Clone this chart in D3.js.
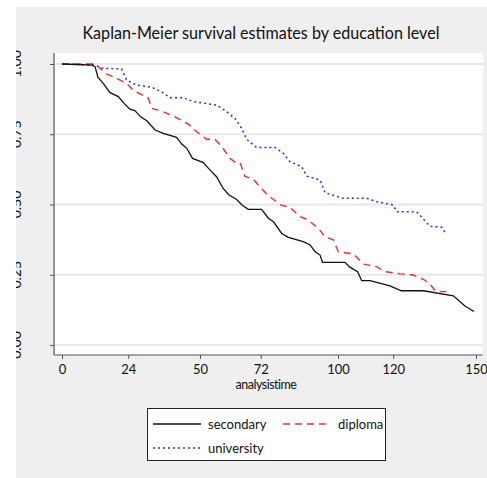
<!DOCTYPE html>
<html>
<head>
<meta charset="utf-8">
<script src="https://cdn.jsdelivr.net/npm/d3@7"></script>
<style>
  body { margin: 0; background: #fff; }
  svg text { font-family: Lato, "Open Sans", sans-serif; fill: #111; }
</style>
</head>
<body>
<div id="chart"></div>
<script>
// analysis time ticks and survival ticks
const xTicks = [0, 24, 50, 72, 100, 120, 150];
const yTicks = [0, 0.25, 0.5, 0.75, 1];
const yTickLabels = ["0.00", "0.25", "0.50", "0.75", "1.00"];

// Kaplan-Meier estimates: [time, survival]
const secondary = [
  [0, 1], [11, 0.996], [12, 0.99], [13, 0.953], [15, 0.93], [17.4, 0.898], [20.4, 0.884],
  [22.5, 0.86], [24.6, 0.839], [26.4, 0.834], [28.5, 0.812], [30.7, 0.798], [33.7, 0.765],
  [36.7, 0.753], [41.5, 0.739], [43.4, 0.715], [45.2, 0.70], [47.3, 0.664], [51.2, 0.649],
  [53.4, 0.625], [56, 0.599], [58.4, 0.557], [60.5, 0.534], [63.3, 0.518], [65.1, 0.499],
  [67.5, 0.483], [72.3, 0.483], [74.8, 0.451], [76.6, 0.439], [79.6, 0.397], [82, 0.383],
  [87.4, 0.368], [89.9, 0.356], [91.7, 0.332], [93.5, 0.320], [94.4, 0.294], [102.5, 0.294],
  [104.3, 0.277], [107.1, 0.261], [108.6, 0.229], [111.6, 0.229], [118.8, 0.21], [123, 0.193],
  [130.9, 0.193], [141.8, 0.175], [146, 0.139], [149.3, 0.119]
];
const diploma = [
  [0, 1], [12, 1], [13.8, 0.985], [15.6, 0.967], [19.8, 0.949], [23.4, 0.931], [25.8, 0.907],
  [31.3, 0.878], [32.5, 0.842], [36.7, 0.830], [40.9, 0.812], [45.8, 0.786], [48.8, 0.759],
  [52.4, 0.732], [55.4, 0.732], [57.9, 0.706], [60.9, 0.664], [62.5, 0.652], [64.5, 0.649],
  [66.3, 0.600], [69.3, 0.590], [71.7, 0.563], [74.5, 0.534], [79.3, 0.498], [82.6, 0.490],
  [86.2, 0.457], [89.2, 0.445], [92.9, 0.415], [95.3, 0.385], [98.3, 0.374], [100.1, 0.332],
  [105.6, 0.324], [109.2, 0.288], [114, 0.279], [117, 0.261], [122.5, 0.253], [127.3, 0.249],
  [130.9, 0.234], [133.1, 0.219], [135.5, 0.190], [140.3, 0.190]
];
const university = [
  [0, 1], [12, 0.996], [14.4, 0.985], [21.6, 0.982], [23.4, 0.943], [27, 0.925], [32.5, 0.917],
  [36.1, 0.901], [39.1, 0.880], [43.9, 0.880], [47.6, 0.866], [56, 0.854], [59.7, 0.830],
  [62.7, 0.806], [65.1, 0.771], [66.9, 0.732], [70.5, 0.703], [77.2, 0.703], [80.2, 0.682],
  [82.6, 0.652], [86.8, 0.635], [88.7, 0.601], [93.5, 0.587], [95.3, 0.542], [101.9, 0.522],
  [110.4, 0.522], [114, 0.510], [120, 0.498], [121.3, 0.474], [128.5, 0.474], [133.3, 0.423],
  [137.6, 0.419], [139.1, 0.395]
];

const seriesNames = ["secondary", "diploma", "university"];
const seriesData = [secondary, diploma, university];

const W = 487, H = 478;
const plot = { left: 54, right: 483, top: 53, bottom: 355 };

const svg = d3.select("#chart").append("svg")
  .attr("width", W).attr("height", H);

// grey graph region
svg.append("rect")
  .attr("x", 16).attr("y", 7).attr("width", W - 16).attr("height", H - 7)
  .attr("fill", "#efefef");

// white plot region
svg.append("rect")
  .attr("x", plot.left).attr("y", plot.top)
  .attr("width", plot.right - plot.left).attr("height", plot.bottom - plot.top)
  .attr("fill", "#fff");

const x = d3.scaleLinear().domain([0, 150]).range([62, 476]);
const y = d3.scaleLinear().domain([0, 1]).range([345, 64]);

// gridlines
svg.append("g").selectAll("line").data(yTicks).join("line")
  .attr("x1", plot.left).attr("x2", plot.right)
  .attr("y1", d => y(d)).attr("y2", d => y(d))
  .attr("stroke", "#e8e8e8").attr("stroke-width", 2);

// x axis
const xAxis = svg.append("g")
  .attr("transform", `translate(0,${plot.bottom})`)
  .call(d3.axisBottom(x).tickValues(xTicks).tickSize(4).tickPadding(6).tickSizeOuter(0));
xAxis.select(".domain").attr("d", `M${plot.left},0H${plot.right}`).attr("stroke", "#555").attr("stroke-width", 1.2);
xAxis.selectAll(".tick line").attr("stroke", "#555");
xAxis.selectAll("text").attr("font-size", 13).attr("font-family", "Lato, sans-serif").attr("fill", "#111");

svg.append("text")
  .attr("x", 266).attr("y", 389)
  .attr("text-anchor", "middle").attr("font-size", 12.5)
  .attr("letter-spacing", -0.5)
  .text("analysistime");

// y axis
const yAxis = svg.append("g")
  .attr("transform", `translate(${plot.left},0)`)
  .call(d3.axisLeft(y).tickValues(yTicks).tickSize(4).tickFormat(""));
yAxis.select(".domain").attr("d", `M0,${plot.top}V${plot.bottom}`).attr("stroke", "#555").attr("stroke-width", 1.2);
yAxis.selectAll(".tick line").attr("stroke", "#555");

// rotated y tick labels, mostly cut off at the graph edge
svg.append("clipPath").attr("id", "yclip")
  .append("rect").attr("x", 16).attr("y", 0).attr("width", 40).attr("height", H);
svg.append("g").attr("clip-path", "url(#yclip)")
  .selectAll("text").data(yTicks).join("text")
  .attr("transform", d => `translate(21,${y(d)}) rotate(-90)`)
  .attr("text-anchor", "middle").attr("font-size", 14)
  .text((d, i) => yTickLabels[i]);

// title
svg.append("text")
  .attr("x", 261).attr("y", 39)
  .attr("text-anchor", "middle").attr("font-size", 17)
  .attr("textLength", 357).attr("lengthAdjust", "spacingAndGlyphs")
  .text("Kaplan-Meier survival estimates by education level");

// survival curves
const line = d3.line().x(d => x(d[0])).y(d => y(d[1]));
const styles = [
  { stroke: "#111", dash: null, width: 1.3 },
  { stroke: "#ff2a2a", dash: "7,5", width: 1.4 },
  { stroke: "#2b2bff", dash: "2,3", width: 1.5 }
];
// draw university first, then diploma, then secondary on top
[2, 1, 0].forEach(i => {
  svg.append("path")
    .datum(seriesData[i])
    .attr("d", line)
    .attr("fill", "none")
    .attr("stroke", styles[i].stroke)
    .attr("stroke-width", styles[i].width)
    .attr("stroke-dasharray", styles[i].dash);
});

// legend
const lg = svg.append("g");
lg.append("rect")
  .attr("x", 147.5).attr("y", 408.5).attr("width", 238).attr("height", 52)
  .attr("fill", "#fff").attr("stroke", "#222").attr("stroke-width", 1);
const legendPos = [[153, 424], [283, 424], [153, 448]];
seriesNames.forEach((name, i) => {
  const [lx, ly] = legendPos[i];
  lg.append("line")
    .attr("x1", lx).attr("x2", lx + 48).attr("y1", ly).attr("y2", ly)
    .attr("stroke", styles[i].stroke)
    .attr("stroke-width", styles[i].width)
    .attr("stroke-dasharray", styles[i].dash);
  lg.append("text")
    .attr("x", lx + 55).attr("y", ly + 4.5)
    .attr("font-size", 13)
    .text(name);
});
</script>
</body>
</html>
